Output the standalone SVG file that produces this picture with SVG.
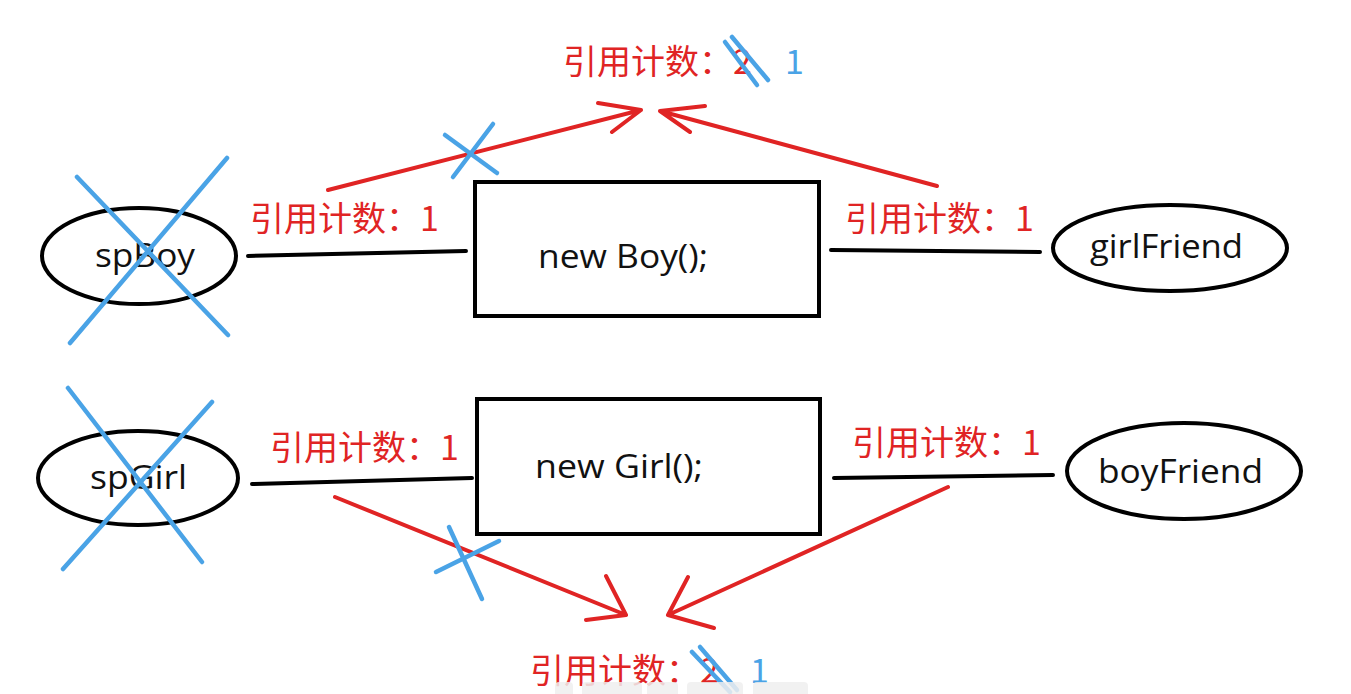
<svg xmlns="http://www.w3.org/2000/svg" width="1351" height="694" viewBox="0 0 1351 694">
<style>
.node{fill:#fff;stroke:#000;stroke-width:4}
.lat{font-family:"Open Sans","Noto Sans",sans-serif;font-size:32px;fill:#111}
.link{stroke:#000;stroke-width:4;stroke-linecap:round;fill:none}
.ref{stroke:#e02424;stroke-width:4;stroke-linecap:round;stroke-linejoin:round;fill:none}
.cross{stroke:#4aa3e6;stroke-width:4.5;stroke-linecap:round;fill:none}
.lbl{font-family:"Noto Sans CJK SC","Noto Sans",sans-serif;font-size:34px;fill:#e02424}
.blue{font-family:"Noto Sans CJK SC","Noto Sans",sans-serif;font-size:34px;fill:#4aa3e6}
.tb{fill:#eeeeee;opacity:0.85}
</style>
<rect width="1351" height="694" fill="#fff"/>
<g id="connectors">
<line class="link" x1="248" y1="256" x2="466" y2="251"/>
<line class="link" x1="831" y1="250" x2="1040" y2="252"/>
<line class="link" x1="252" y1="484" x2="472" y2="478"/>
<line class="link" x1="834" y1="478" x2="1053" y2="475"/>
<path class="ref" d="M328,190 L641,110 M598,103 L641,110 L612,132"/>
<path class="ref" d="M937,186 L660,111 M705,106 L660,111 L690,132"/>
<path class="ref" d="M335,497 L626,615 M606,576 L626,615 L586,620"/>
<path class="ref" d="M948,487 L668,615 M688,577 L668,615 L714,628"/>
</g>
<g id="spBoy">
<ellipse class="node" cx="139" cy="256" rx="97" ry="48"/>
<text class="lat" x="95" y="267" textLength="100" lengthAdjust="spacingAndGlyphs">spBoy</text>
</g>
<g id="newBoy">
<rect class="node" x="475" y="182" width="344" height="134"/>
<text class="lat" x="538" y="268" textLength="170" lengthAdjust="spacingAndGlyphs">new Boy();</text>
</g>
<g id="girlFriend">
<ellipse class="node" cx="1170" cy="248" rx="117" ry="43"/>
<text class="lat" x="1090" y="258" textLength="153" lengthAdjust="spacingAndGlyphs">girlFriend</text>
</g>
<g id="spGirl">
<ellipse class="node" cx="138" cy="478" rx="100" ry="47"/>
<text class="lat" x="90" y="489" textLength="97" lengthAdjust="spacingAndGlyphs">spGirl</text>
</g>
<g id="newGirl">
<rect class="node" x="477" y="399" width="343" height="135"/>
<text class="lat" x="535" y="478" textLength="168" lengthAdjust="spacingAndGlyphs">new Girl();</text>
</g>
<g id="boyFriend">
<ellipse class="node" cx="1184" cy="471" rx="117" ry="48"/>
<text class="lat" x="1098" y="483" textLength="165" lengthAdjust="spacingAndGlyphs">boyFriend</text>
</g>
<g id="labels">
<text class="lbl" x="250" y="231">引用计数：1</text>
<text class="lbl" x="845" y="231">引用计数：1</text>
<text class="lbl" x="270" y="460">引用计数：1</text>
<text class="lbl" x="852" y="455">引用计数：1</text>
<text class="lbl" x="563" y="74">引用计数：2</text>
<text class="blue" x="785" y="74">1</text>
<text class="lbl" x="530" y="683">引用计数：2</text>
<text class="blue" x="750" y="683">1</text>
</g>
<g id="crosses">
<line class="cross" x1="77" y1="177" x2="228" y2="335"/>
<line class="cross" x1="227" y1="158" x2="70" y2="343"/>
<line class="cross" x1="68" y1="388" x2="202" y2="562"/>
<line class="cross" x1="212" y1="402" x2="63" y2="569"/>
<line class="cross" x1="445" y1="135" x2="497" y2="173"/>
<line class="cross" x1="493" y1="124" x2="453" y2="177"/>
<line class="cross" x1="449" y1="527" x2="482" y2="599"/>
<line class="cross" x1="499" y1="541" x2="436" y2="572"/>
<line class="cross" x1="725" y1="42" x2="757" y2="85"/>
<line class="cross" x1="732" y1="37" x2="768" y2="80"/>
<line class="cross" x1="692" y1="652" x2="730" y2="692"/>
<line class="cross" x1="700" y1="647" x2="737" y2="690"/>
</g>
<g id="toolbar">
<rect class="tb" x="555" y="682" width="18" height="24" rx="4"/>
<rect class="tb" x="582" y="682" width="60" height="24" rx="4"/>
<rect class="tb" x="647" y="682" width="31" height="24" rx="4"/>
<rect class="tb" x="687" y="682" width="56" height="24" rx="4"/>
<rect class="tb" x="753" y="682" width="55" height="24" rx="4"/>
</g>
</svg>
